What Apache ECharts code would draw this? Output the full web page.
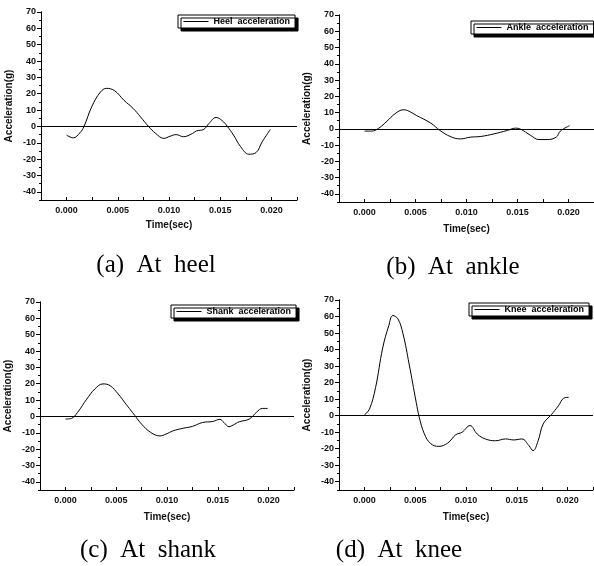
<!DOCTYPE html>
<html>
<head>
<meta charset="utf-8">
<script src="https://cdn.jsdelivr.net/npm/echarts@6/dist/echarts.min.js"></script>
<style>
  html, body { margin: 0; padding: 0; background: #fff; }
  #chart { width: 594px; height: 566px; }
</style>
</head>
<body>
<div id="chart"></div>
<script>
// values (time in sec, acceleration in g)
const heelTime = [0, 0.00065, 0.0013, 0.0017, 0.00245, 0.0033, 0.0039, 0.0047, 0.0056, 0.0065, 0.0072, 0.008, 0.0087, 0.0095, 0.0101, 0.0107, 0.0114, 0.0123, 0.0127, 0.0134, 0.0139, 0.0146, 0.0152, 0.0157, 0.0163, 0.017, 0.0178, 0.0185, 0.0191, 0.0199]
const heelAcc = [-5.3, -7, -3.9, 0, 12, 21, 23.3, 21.8, 16, 11, 6, 0, -4.3, -7.3, -6, -5, -6.3, -4.3, -2.7, -1.8, 1.8, 5.5, 3.5, 0, -5.3, -12.4, -17, -16, -9.4, -1.8]

const ankleTime = [0, 0.0007, 0.0014, 0.0022, 0.003, 0.0038, 0.0042, 0.0051, 0.0065, 0.0074, 0.0084, 0.0094, 0.0104, 0.0114, 0.0127, 0.014, 0.0148, 0.0153, 0.0163, 0.0171, 0.0179, 0.0188, 0.0192, 0.0201]
const ankleAcc = [-1.4, -1.4, 0.4, 4.7, 9.3, 11.7, 11.3, 8.2, 3.5, -1, -4.7, -6.2, -5.1, -4.7, -3.1, -1, 0.4, -0.2, -4.1, -6.6, -6.6, -5.1, -1.4, 1.9]

const shankTime = [0, 0.0006, 0.0012, 0.0021, 0.0029, 0.0037, 0.0044, 0.0052, 0.006, 0.0066, 0.0075, 0.0084, 0.0093, 0.0099, 0.0106, 0.0116, 0.0125, 0.0135, 0.0145, 0.0152, 0.0156, 0.0161, 0.0165, 0.0171, 0.0181, 0.0188, 0.0194, 0.0199]
const shankAcc = [-1.6, -1.2, 2.5, 10.6, 16.8, 19.9, 18.8, 13.7, 7.2, 2.5, -4.7, -9.8, -11.9, -10.8, -8.8, -7.2, -6.1, -3.7, -3.1, -1.8, -3.7, -6.3, -5.3, -3.3, -1.6, 2.5, 4.9, 4.9]

const kneeTime = [0, 0.0005, 0.0011, 0.0018, 0.0024, 0.0028, 0.0033, 0.0038, 0.0044, 0.0051, 0.0054, 0.0059, 0.0065, 0.0073, 0.0082, 0.009, 0.0096, 0.0104, 0.0111, 0.0119, 0.0129, 0.0139, 0.0147, 0.0155, 0.0162, 0.0166, 0.0171, 0.0176, 0.0184, 0.0191, 0.0196, 0.0201]
const kneeAcc = [0.4, 4, 17, 41, 54.5, 60.6, 58.6, 49.5, 31.3, 8, -1, -11, -16.8, -18.6, -16.6, -11.5, -10.1, -6, -11.1, -14.1, -15.2, -14.1, -14.7, -14.1, -18.2, -21.2, -15.2, -5, 0.6, 6, 10.5, 11.1]

const seriesNames = ['Heel  acceleration', 'Ankle  acceleration', 'Shank  acceleration', 'Knee  acceleration']
const captions = ['(a)  At  heel', '(b)  At  ankle', '(c)  At  shank', '(d)  At  knee']
const xTickLabels = [0, 0.005, 0.01, 0.015, 0.02]
const yTickLabels = [-40, -30, -20, -10, 0, 10, 20, 30, 40, 50, 60, 70]

const panelData = [
    [heelTime, heelAcc],
    [ankleTime, ankleAcc],
    [shankTime, shankAcc],
    [kneeTime, kneeAcc]
]

// layout of the four panels
const grids = [
    { left: 41, top: 12, width: 256, height: 188 },
    { left: 339, top: 15, width: 255, height: 187 },
    { left: 40, top: 302, width: 254, height: 188 },
    { left: 339, top: 300, width: 254, height: 190 }
]
const legendPos = [
    { left: 178, top: 15 },
    { left: 471, top: 21 },
    { left: 171, top: 305 },
    { left: 469, top: 303 }
]
const captionPos = [[156, 265], [453, 267], [148, 550], [399, 550]]
const xNameGap = [20, 22, 22, 22]

const font = 'Liberation Sans, Arial, sans-serif'
const tickFont = { fontFamily: font, fontSize: 9, fontWeight: 'bold', color: '#111' }

const chart = echarts.init(document.getElementById('chart'), null, { renderer: 'canvas' })

const xAxes = []
const yAxes = []
const series = []
const legends = []

grids.forEach((g, i) => {
    xAxes.push({
        type: 'value',
        gridIndex: i,
        min: -0.0025,
        max: 0.0225,
        interval: 0.0025,
        name: 'Time(sec)',
        nameLocation: 'middle',
        nameGap: xNameGap[i],
        nameTextStyle: { fontFamily: font, fontSize: 10, fontWeight: 'bold', color: '#111' },
        axisLine: { onZero: false, lineStyle: { color: '#000', width: 1 } },
        axisTick: { inside: true, length: 3, lineStyle: { color: '#000' } },
        axisLabel: {
            customValues: xTickLabels,
            margin: 6,
            ...tickFont,
            formatter: v => v.toFixed(3)
        },
        splitLine: { show: false }
    })
    // main y axis: short ticks every 5, labels every 10
    yAxes.push({
        type: 'value',
        gridIndex: i,
        min: -45,
        max: 70,
        interval: 5,
        name: 'Acceleration(g)',
        nameLocation: 'middle',
        nameRotate: 90,
        nameGap: 27,
        nameTextStyle: { fontFamily: font, fontSize: 10, fontWeight: 'bold', color: '#111' },
        axisLine: { onZero: false, lineStyle: { color: '#000', width: 1 } },
        axisTick: { length: 2, lineStyle: { color: '#000' } },
        axisLabel: { customValues: yTickLabels, margin: 5, ...tickFont },
        splitLine: { show: false }
    })
    // second y axis on top of it for the long ticks every 10
    yAxes.push({
        type: 'value',
        gridIndex: i,
        min: -45,
        max: 70,
        position: 'left',
        offset: 0,
        axisLine: { show: true, onZero: false, lineStyle: { color: '#000', width: 1 } },
        axisTick: { show: true, customValues: yTickLabels, length: 4, lineStyle: { color: '#000' } },
        axisLabel: { show: false },
        splitLine: { show: false }
    })
    const [times, accs] = panelData[i]
    series.push({
        name: seriesNames[i],
        type: 'line',
        xAxisIndex: i,
        yAxisIndex: i * 2,
        data: times.map((t, k) => [t, accs[k]]),
        smooth: 0.4,
        symbol: 'none',
        lineStyle: { color: '#000', width: 1 },
        itemStyle: { color: '#000' },
        animation: false,
        markLine: {
            silent: true,
            symbol: ['none', 'none'],
            label: { show: false },
            lineStyle: { color: '#000', type: 'solid', width: 1 },
            data: [{ yAxis: 0 }],
            animation: false
        }
    })
    legends.push({
        ...legendPos[i],
        data: [seriesNames[i]],
        orient: 'horizontal',
        padding: [2, 5, 2, 5],
        itemWidth: 25,
        itemHeight: 9,
        itemGap: 5,
        itemStyle: { opacity: 0 },
        lineStyle: { color: '#000', width: 1 },
        backgroundColor: '#fff',
        borderColor: '#000',
        borderWidth: 1,
        borderRadius: 0,
        shadowColor: '#000',
        shadowBlur: 0,
        shadowOffsetX: 3,
        shadowOffsetY: 3,
        selectedMode: false,
        textStyle: { fontFamily: font, fontSize: 9, fontWeight: 'bold', color: '#000' }
    })
})

chart.setOption({
    backgroundColor: '#fff',
    animation: false,
    grid: grids,
    xAxis: xAxes,
    yAxis: yAxes,
    legend: legends,
    series: series,
    graphic: captions.map((c, i) => ({
        type: 'text',
        x: captionPos[i][0],
        y: captionPos[i][1],
        style: {
            text: c,
            font: '25px "Liberation Serif", "Times New Roman", serif',
            fill: '#000',
            textAlign: 'center',
            textVerticalAlign: 'middle'
        }
    }))
})
</script>
</body>
</html>
